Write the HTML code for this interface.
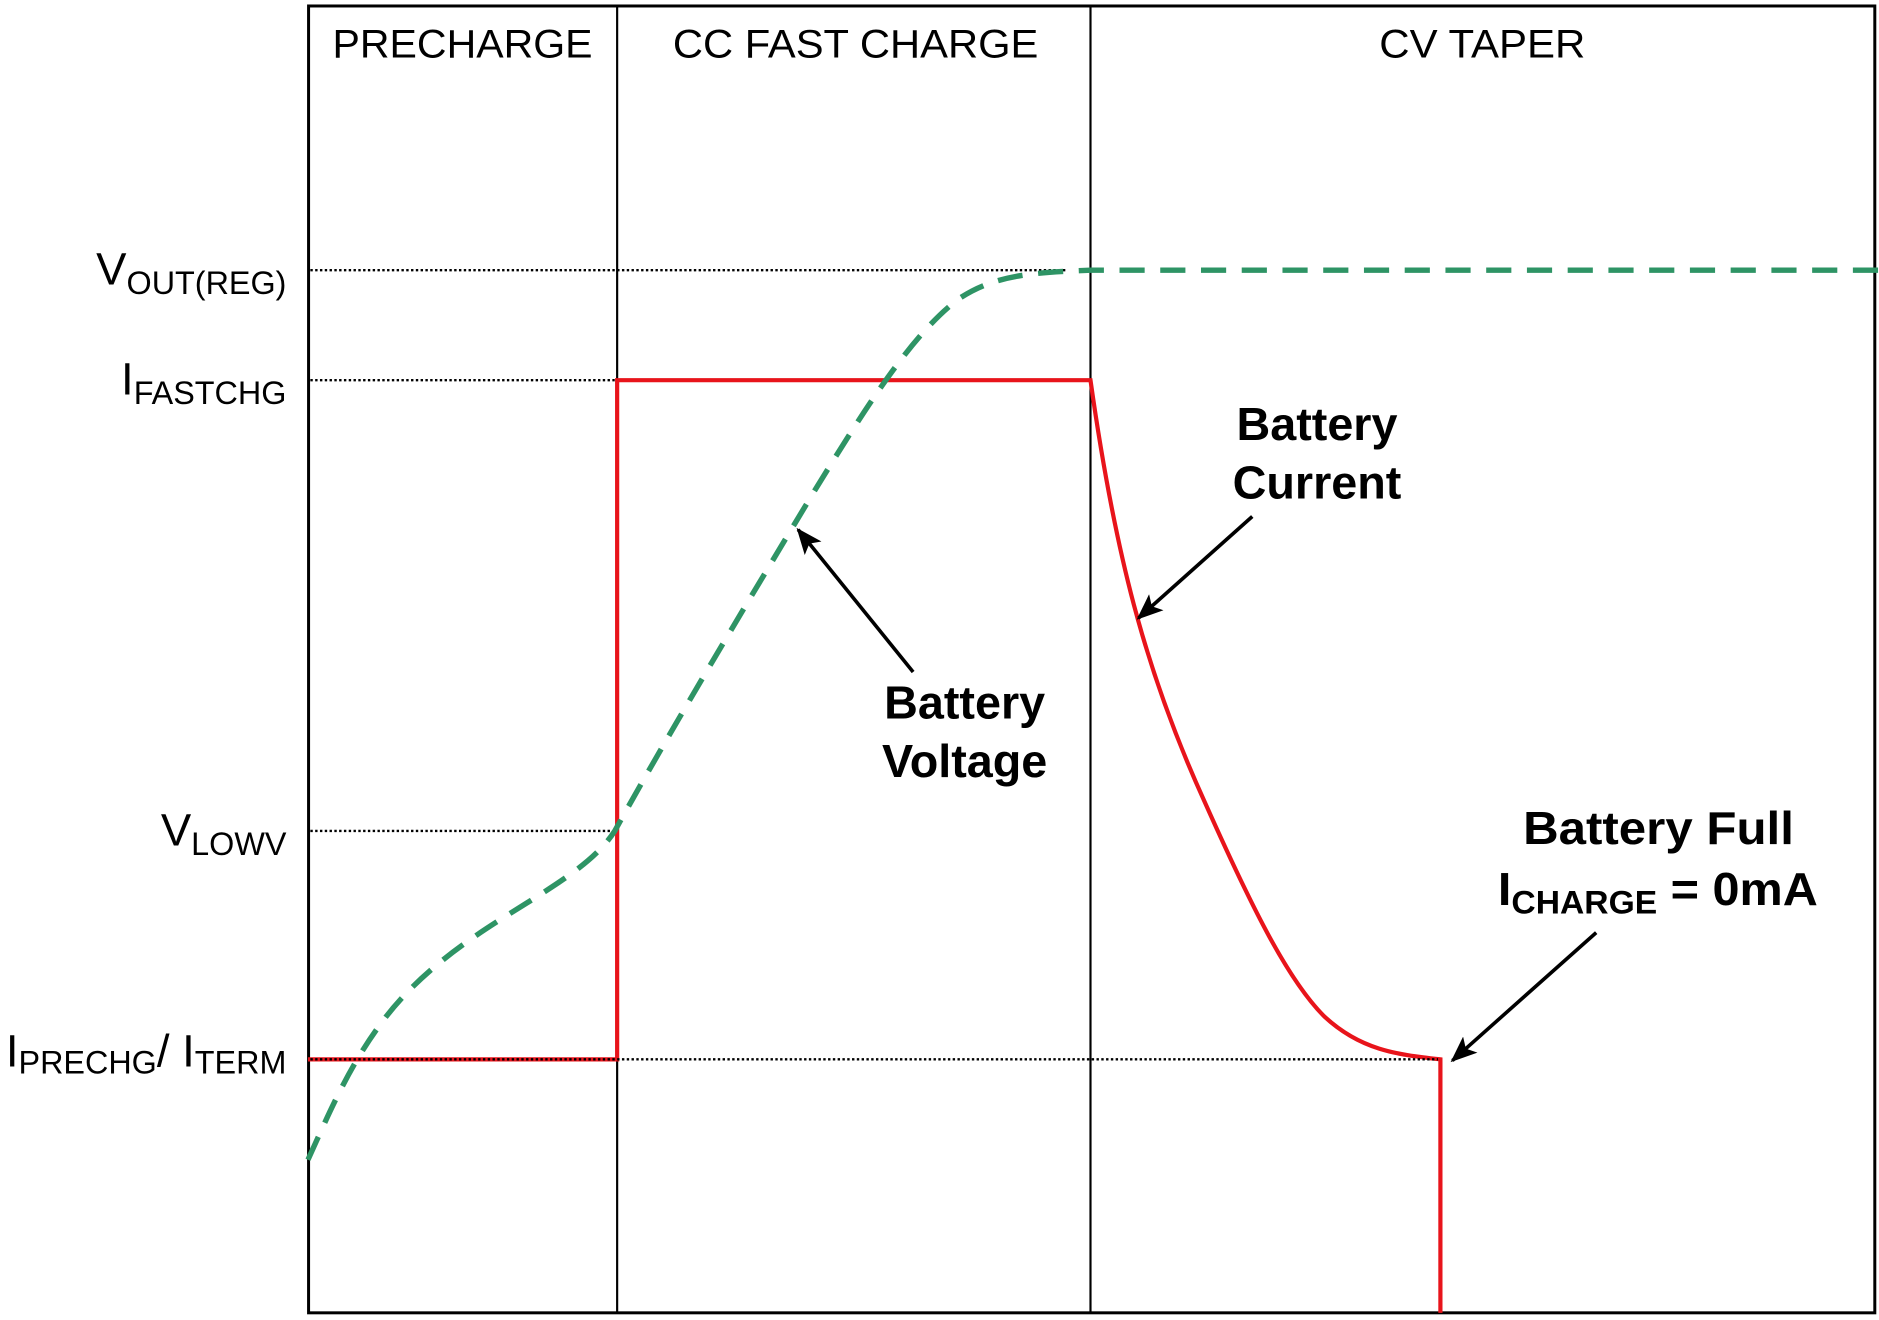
<!DOCTYPE html>
<html><head><meta charset="utf-8"><style>
html,body{margin:0;padding:0;background:#fff;}
svg{display:block;}
text{font-family:"Liberation Sans",Arial,sans-serif;fill:#000;}
</style></head><body>
<svg width="1879" height="1320" viewBox="0 0 1568 1104" preserveAspectRatio="none" xmlns="http://www.w3.org/2000/svg">
<defs>
<marker id="ah" markerWidth="22" markerHeight="18" refX="20" refY="9" orient="auto" markerUnits="userSpaceOnUse" viewBox="0 0 22 18">
<path d="M0,0 L22,9 L0,18 L5,9 z" fill="#000"/>
</marker>
</defs>
<rect x="257.5" y="5" width="1307" height="1093" fill="none" stroke="#000" stroke-width="2.5"/>
<line x1="515" y1="5" x2="515" y2="1098" stroke="#000" stroke-width="1.8"/>
<line x1="910" y1="5" x2="910" y2="1098" stroke="#000" stroke-width="1.8"/>
<text x="386" y="48" font-size="33" text-anchor="middle" textLength="217" lengthAdjust="spacingAndGlyphs">PRECHARGE</text>
<text x="714" y="48" font-size="33" text-anchor="middle" textLength="305" lengthAdjust="spacingAndGlyphs">CC FAST CHARGE</text>
<text x="1237" y="48" font-size="33" text-anchor="middle" textLength="172" lengthAdjust="spacingAndGlyphs">CV TAPER</text>
<g stroke="#000" stroke-width="2" stroke-dasharray="2 2">
<line x1="259" y1="226" x2="890" y2="226"/>
<line x1="259" y1="318" x2="515" y2="318"/>
<line x1="259" y1="695" x2="510" y2="695"/>
</g>
<path d="M257,886 L515,886 L515,318 L910,318 C930,460 955,560 1005,670 C1045,760 1075,820 1105,850 C1135,878 1165,882 1202,886 L1202,1098" fill="none" stroke="#e8141b" stroke-width="3.5"/>
<line x1="259" y1="886" x2="1200" y2="886" stroke="#000" stroke-width="2" stroke-dasharray="2 2"/>
<text x="239" y="238" font-size="38" text-anchor="end">V<tspan font-size="27" dy="8">OUT(REG)</tspan></text>
<text x="239" y="330" font-size="38" text-anchor="end">I<tspan font-size="27" dy="8">FASTCHG</tspan></text>
<text x="239" y="707" font-size="38" text-anchor="end">V<tspan font-size="27" dy="8">LOWV</tspan></text>
<text x="239" y="892" font-size="38" text-anchor="end">I<tspan font-size="27" dy="6">PRECHG</tspan><tspan dy="-6">/ I</tspan><tspan font-size="27" dy="6">TERM</tspan></text>
<path d="M257,970 C275,930 290,895 315,860 C350,810 400,780 440,755 C480,730 500,715 513,695 C560,610 620,510 680,410 C720,345 760,280 800,250 C830,230 860,228 910,226 L1568,226" fill="none" stroke="#2e9465" stroke-width="4.5" stroke-dasharray="21 13"/>
<text x="1099" y="368" font-size="39" font-weight="bold" text-anchor="middle">Battery</text>
<text x="1099" y="417" font-size="39" font-weight="bold" text-anchor="middle">Current</text>
<line x1="1045" y1="432" x2="950" y2="517" stroke="#000" stroke-width="3" marker-end="url(#ah)"/>
<text x="805" y="601" font-size="39" font-weight="bold" text-anchor="middle">Battery</text>
<text x="805" y="650" font-size="39" font-weight="bold" text-anchor="middle">Voltage</text>
<line x1="762" y1="562" x2="666" y2="443" stroke="#000" stroke-width="3" marker-end="url(#ah)"/>
<text x="1384" y="706" font-size="39" font-weight="bold" text-anchor="middle" textLength="226" lengthAdjust="spacingAndGlyphs">Battery Full</text>
<text x="1250" y="757" font-size="39" font-weight="bold" textLength="267" lengthAdjust="spacingAndGlyphs">I<tspan font-size="27" dy="7">CHARGE</tspan><tspan dy="-7"> = 0mA</tspan></text>
<line x1="1332" y1="780" x2="1212" y2="887" stroke="#000" stroke-width="3" marker-end="url(#ah)"/>
</svg>
</body></html>
